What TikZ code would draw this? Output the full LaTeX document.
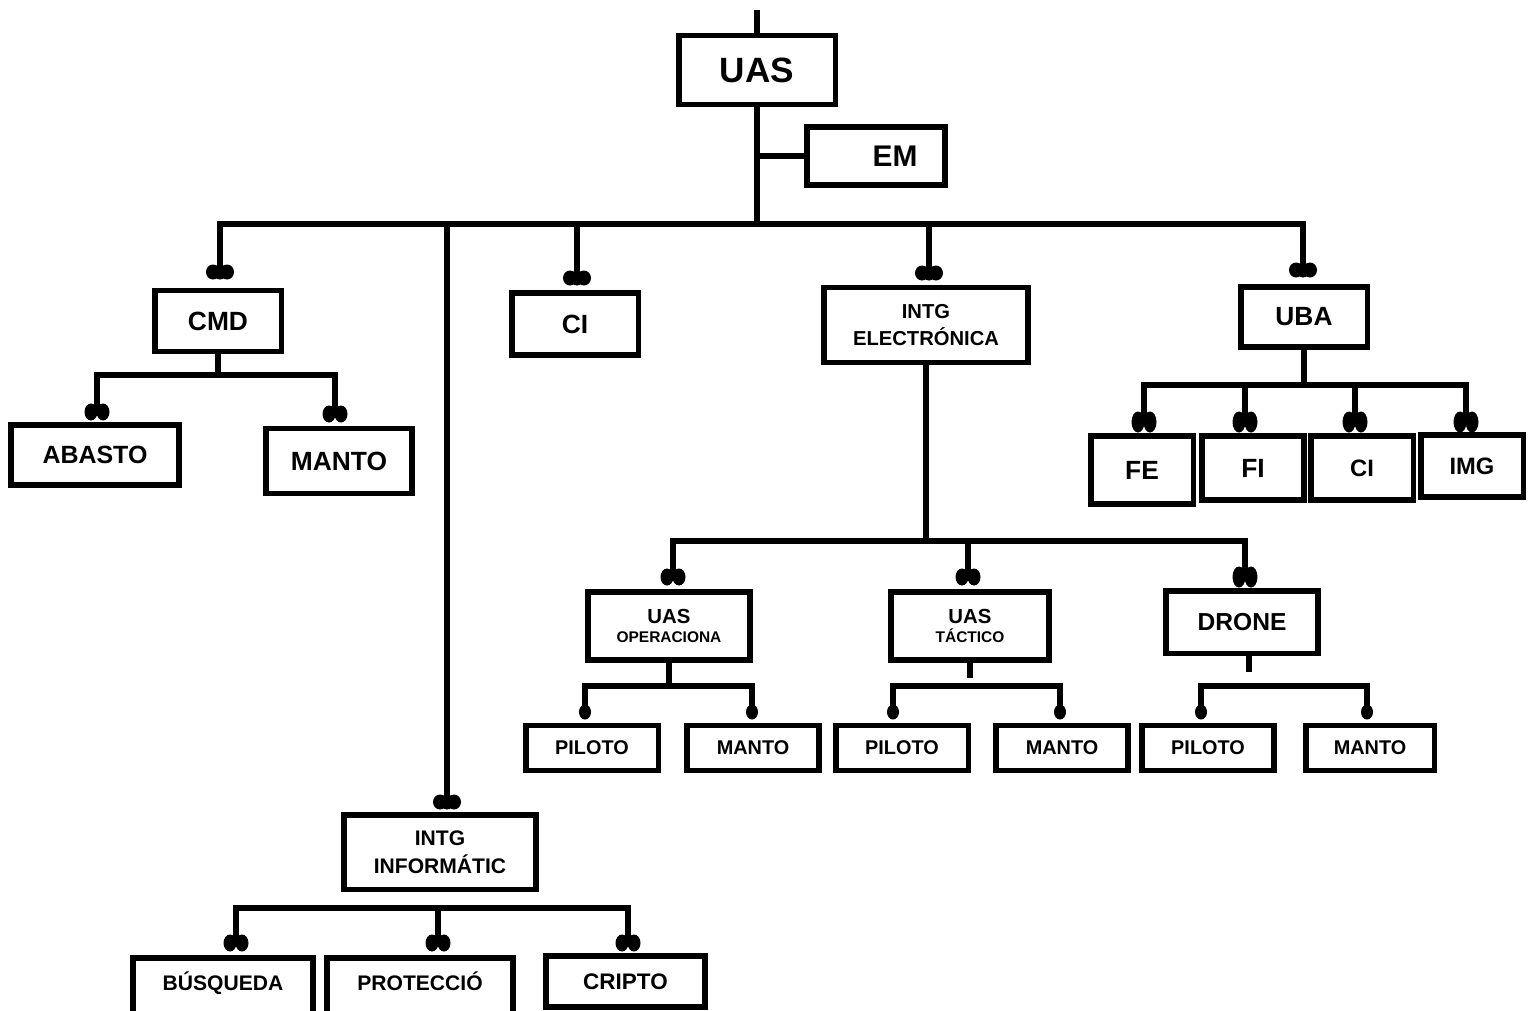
\documentclass[tikz,border=0pt]{standalone}
\usepackage{fontspec}
\setmainfont{Liberation Sans}
\usetikzlibrary{calc}

\tikzset{
  caja/.style={draw, line width=3.4pt, inner sep=0pt, align=center},
  enlace/.style={line width=3.4pt},
  txtXL/.style={font=\bfseries\fontsize{20}{24}\selectfont},
  txtL/.style={font=\bfseries\fontsize{15}{18}\selectfont},
  txtM/.style={font=\bfseries\fontsize{12}{16}\selectfont},
  txtS/.style={font=\bfseries\fontsize{11.3}{13}\selectfont},
  cajaP/.style={caja, txtS, minimum width=2.66cm, minimum height=0.9cm}
}

\begin{document}
\begin{tikzpicture}[x=0.02cm, y=-0.02cm]
\useasboundingbox (0,0) rectangle (1529,1011);
\clip (0,0) rectangle (1529,1011);

% cajas
\node[caja, txtXL, minimum width=3.14cm, minimum height=1.38cm] (uas) at (757,70) {UAS};
\node[caja, font=\bfseries\fontsize{17}{20}\selectfont, minimum width=2.76cm, minimum height=1.16cm] (em) at (876,156) {\hspace*{0.76cm}EM};

\node[caja, txtL, minimum width=2.54cm, minimum height=1.22cm] (cmd) at (218,321) {CMD};
\node[caja, txtL, minimum width=2.54cm, minimum height=1.24cm] (ci) at (575,324) {CI};
\node[caja, font=\bfseries\fontsize{11.5}{15}\selectfont, minimum width=4.08cm, minimum height=1.5cm] (intge) at (926,325) {INTG\\ELECTRÓNICA};
\node[caja, txtL, minimum width=2.54cm, minimum height=1.2cm] (uba) at (1304,317) {UBA};
\node[caja, txtM, minimum width=3.86cm, minimum height=1.5cm] (intgi) at (440,852) {INTG\\INFORMÁTIC};

\node[caja, font=\bfseries\fontsize{14.2}{17}\selectfont, minimum width=3.38cm, minimum height=1.2cm] (abasto) at (95,455) {ABASTO};
\node[caja, txtL, minimum width=2.92cm, minimum height=1.3cm] (mantoc) at (339,461) {MANTO};

\node[caja, txtL, minimum width=2.06cm, minimum height=1.36cm] (fe) at (1142,470) {FE};
\node[caja, txtL, minimum width=2.04cm, minimum height=1.28cm] (fi) at (1253,468) {FI};
\node[caja, font=\bfseries\fontsize{13.5}{16}\selectfont, minimum width=2.06cm, minimum height=1.28cm] (ciu) at (1362,468) {CI};
\node[caja, font=\bfseries\fontsize{13.5}{16}\selectfont, minimum width=2.06cm, minimum height=1.24cm] (img) at (1472,466) {IMG};

\node[caja, font=\bfseries\fontsize{11.6}{11.3}\selectfont, minimum width=3.24cm, minimum height=1.36cm] (uasop) at (669,626) {UAS\\{\fontsize{8.8}{10}\selectfont OPERACIONA}};
\node[caja, font=\bfseries\fontsize{11.6}{11.3}\selectfont, minimum width=3.16cm, minimum height=1.36cm] (uastac) at (970,626) {UAS\\{\fontsize{8.8}{10}\selectfont TÁCTICO}};
\node[caja, font=\bfseries\fontsize{14}{17}\selectfont, minimum width=3.04cm, minimum height=1.26cm] (drone) at (1242,622) {DRONE};

\node[cajaP] (pil1) at (592,748) {PILOTO};
\node[cajaP, minimum width=2.64cm] (man1) at (753,748) {MANTO};
\node[cajaP] (pil2) at (902,748) {PILOTO};
\node[cajaP, minimum width=2.64cm] (man2) at (1062,748) {MANTO};
\node[cajaP, minimum width=2.64cm] (pil3) at (1208,748) {PILOTO};
\node[cajaP, minimum width=2.58cm] (man3) at (1370,748) {MANTO};

% cortadas por el borde de abajo
\node[caja, txtM, minimum width=3.6cm, minimum height=2.2cm, text height=0.3cm, text depth=1.2cm] (busq) at (223,1013) {BÚSQUEDA};
\node[caja, txtM, minimum width=3.72cm, minimum height=2.2cm, text height=0.3cm, text depth=1.2cm] (prot) at (420,1013) {PROTECCIÓ};
\node[caja, font=\bfseries\fontsize{12.8}{15}\selectfont, minimum width=3.18cm, minimum height=1.02cm] (cripto) at (625.5,981.5) {CRIPTO};

% puntos de unidad
\coordinate (uCMD) at (220,272);
\coordinate (uII) at (447,802);
\coordinate (uCI) at (577,278);
\coordinate (uIE) at (929,273);
\coordinate (uUBA) at (1303,270);
\coordinate (uABA) at (97,412);
\coordinate (uMAN) at (335,414);
\coordinate (uFE) at (1144,422);
\coordinate (uFI) at (1245,422);
\coordinate (uCU) at (1355,422);
\coordinate (uIMG) at (1466,422);
\coordinate (uOP) at (673,577);
\coordinate (uTAC) at (968,577);
\coordinate (uDRO) at (1245,577);
\coordinate (uP1) at (585,712);
\coordinate (uM1) at (752,712);
\coordinate (uP2) at (893,712);
\coordinate (uM2) at (1060,712);
\coordinate (uP3) at (1201,712);
\coordinate (uM3) at (1367,712);
\coordinate (uBUS) at (236,943);
\coordinate (uPRO) at (438,943);
\coordinate (uCRI) at (628,943);

% barras
\coordinate (top) at (757,10);
\coordinate (mainBus) at (757,224);
\coordinate (cmdBus) at (223,375);
\coordinate (ubaBus) at (1304,385);
\coordinate (ieBus) at (931,541);
\coordinate (opBus) at (667,686);
\coordinate (tacBus) at (968,686);
\coordinate (tacEnd) at (968,678);
\coordinate (droBus) at (1249,686);
\coordinate (droEnd) at (1249,672);
\coordinate (infBus) at (440,908);

\draw[enlace] (top) -- (uas.north);
\draw[enlace] (uas.south) -- (mainBus);
\draw[enlace] (em.west) -- (em.west -| mainBus);
\draw[enlace] (uCMD) |- (mainBus) -| (uUBA);
\foreach \p in {uII,uCI,uIE}
  \draw[enlace] (\p |- mainBus) -- (\p);

\draw[enlace] (cmd.south) -- (cmd.south |- cmdBus);
\draw[enlace] (uABA) |- (cmdBus) -| (uMAN);

\draw[enlace] (uba.south) -- (uba.south |- ubaBus);
\draw[enlace] (uFE) |- (ubaBus) -| (uIMG);
\foreach \p in {uFI,uCU}
  \draw[enlace] (\p |- ubaBus) -- (\p);

\draw[enlace] (intge.south) -- (intge.south |- ieBus);
\draw[enlace] (uOP) |- (ieBus) -| (uDRO);
\draw[enlace] (uTAC |- ieBus) -- (uTAC);

\draw[enlace] (uasop.south) -- (uasop.south |- opBus);
\draw[enlace] (uP1) |- (opBus) -| (uM1);
\draw[enlace] (uastac.south) -- (uastac.south |- tacEnd);
\draw[enlace] (uP2) |- (tacBus) -| (uM2);
\draw[enlace] ($(drone.south)+(7,0)$) -- (droEnd);
\draw[enlace] (uP3) |- (droBus) -| (uM3);

\draw[enlace] (uBUS) |- (infBus) -| (uCRI);
\draw[enlace] (uPRO |- infBus) -- (uPRO);

% simbolos
\foreach \p in {uCMD,uII,uCI,uIE,uUBA}
{
  \foreach \s in {-7,0,7}
    \fill ($(\p)+(\s,0)$) ellipse [x radius=7, y radius=7.5];
}
\foreach \p in {uABA,uMAN,uOP,uTAC,uBUS,uPRO,uCRI}
{
  \foreach \s in {-6,6}
    \fill ($(\p)+(\s,0)$) ellipse [x radius=6.5, y radius=8.5];
}
\foreach \p in {uFE,uFI,uCU,uIMG,uDRO}
{
  \foreach \s in {-6,6}
    \fill ($(\p)+(\s,0)$) ellipse [x radius=6.5, y radius=10.5];
}
\foreach \p in {uP1,uM1,uP2,uM2,uP3,uM3}
  \fill (\p) ellipse [x radius=6, y radius=7.5];

\end{tikzpicture}
\end{document}
